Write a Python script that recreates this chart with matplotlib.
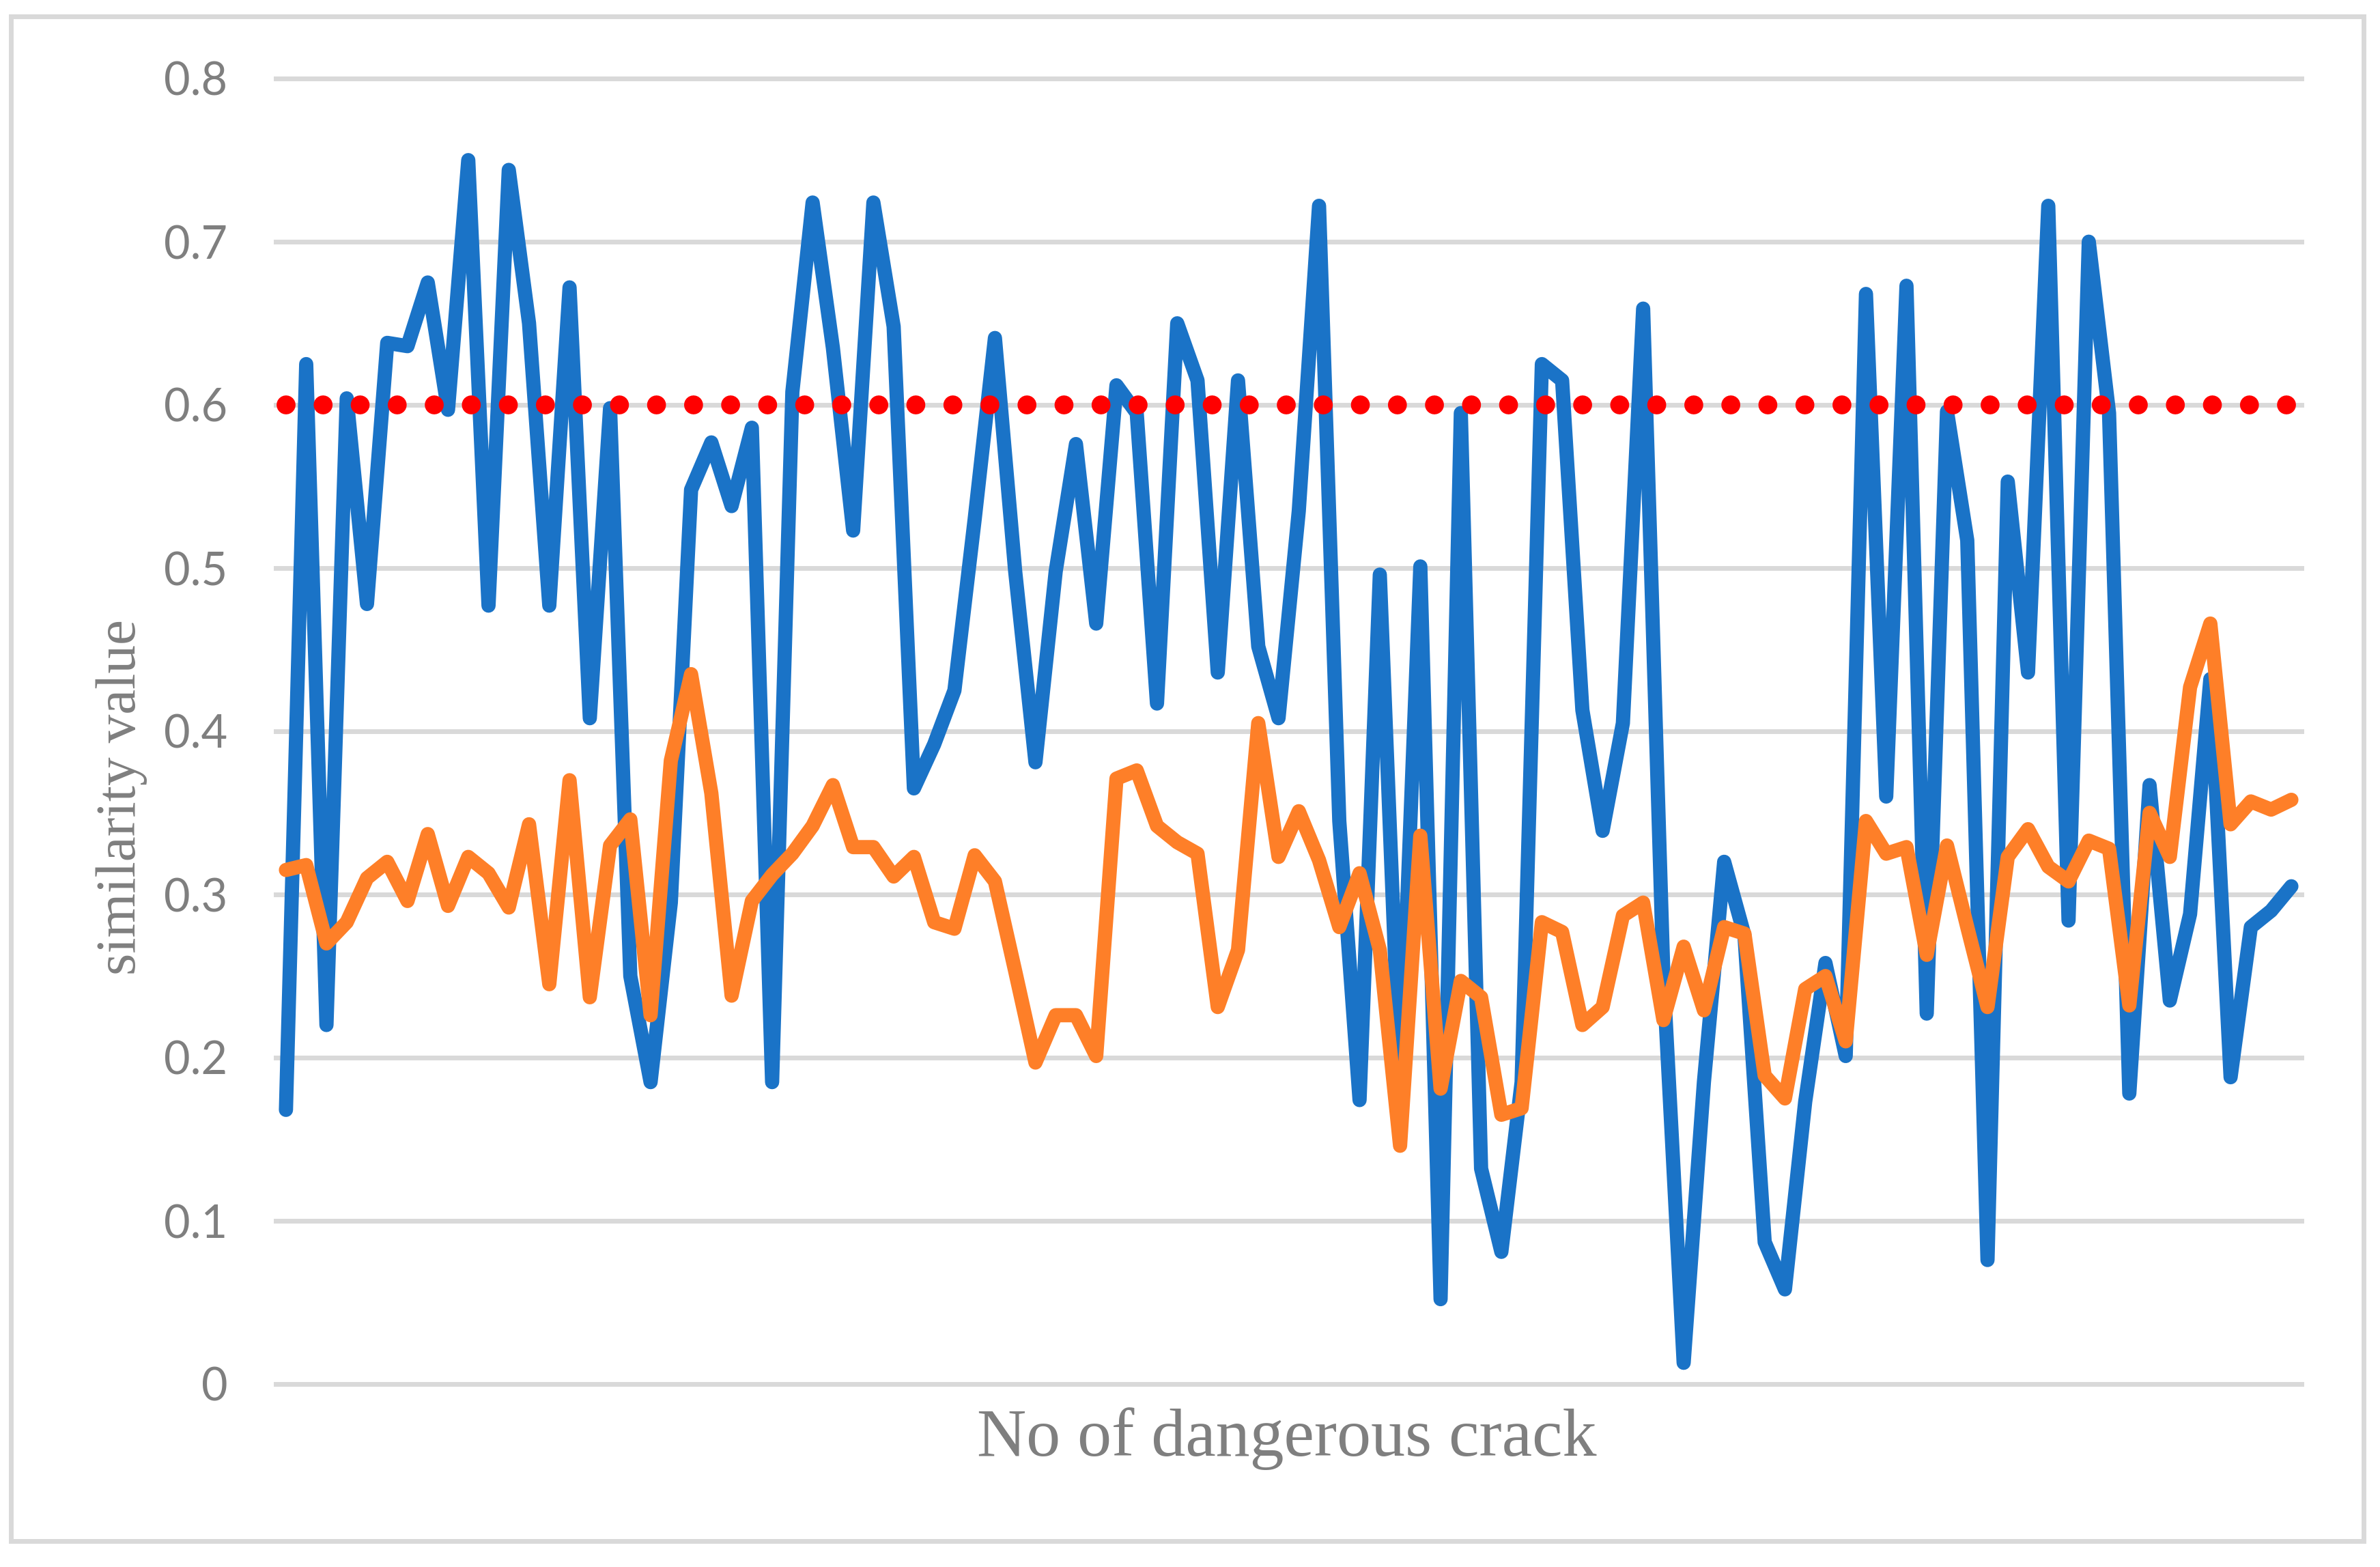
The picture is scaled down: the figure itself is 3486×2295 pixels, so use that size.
import numpy as np
import matplotlib
matplotlib.use("Agg")
import matplotlib.pyplot as plt
from matplotlib.patches import Rectangle

# ── Data ──────────────────────────────────────────────────
blue_vals = [0.168, 0.625, 0.220, 0.604, 0.478, 0.638, 0.636, 0.675, 0.597, 0.750,
             0.477, 0.744, 0.650, 0.477, 0.672, 0.408, 0.598, 0.250, 0.185, 0.295,
             0.548, 0.577, 0.538, 0.586, 0.185, 0.608, 0.724, 0.635, 0.523, 0.724,
             0.648, 0.365, 0.392, 0.425, 0.530, 0.641, 0.498, 0.381, 0.498, 0.576,
             0.466, 0.612, 0.595, 0.417, 0.650, 0.615, 0.436, 0.615, 0.452, 0.408,
             0.535, 0.722, 0.345, 0.174, 0.496, 0.183, 0.501, 0.052, 0.595, 0.132,
             0.081, 0.185, 0.625, 0.615, 0.413, 0.339, 0.405, 0.659, 0.250, 0.013,
             0.185, 0.320, 0.275, 0.087, 0.058, 0.173, 0.258, 0.201, 0.668, 0.360,
             0.673, 0.227, 0.596, 0.517, 0.076, 0.553, 0.436, 0.722, 0.284, 0.700,
             0.595, 0.178, 0.367, 0.235, 0.288, 0.432, 0.188, 0.280, 0.290, 0.305]

orange_vals = [0.315, 0.318, 0.270, 0.283, 0.310, 0.320, 0.296, 0.337, 0.293, 0.323,
               0.313, 0.292, 0.343, 0.245, 0.370, 0.237, 0.330, 0.346, 0.226, 0.382,
               0.435, 0.362, 0.238, 0.296, 0.312, 0.325, 0.342, 0.367, 0.329, 0.329,
               0.311, 0.323, 0.283, 0.279, 0.324, 0.308, 0.253, 0.197, 0.226, 0.226,
               0.201, 0.371, 0.376, 0.342, 0.332, 0.325, 0.231, 0.266, 0.405, 0.323,
               0.351, 0.321, 0.280, 0.313, 0.266, 0.146, 0.336, 0.181, 0.247, 0.237,
               0.165, 0.169, 0.283, 0.277, 0.220, 0.231, 0.287, 0.295, 0.223, 0.268,
               0.229, 0.280, 0.276, 0.189, 0.175, 0.242, 0.250, 0.210, 0.345, 0.325,
               0.329, 0.263, 0.330, 0.280, 0.231, 0.323, 0.340, 0.317, 0.308, 0.333,
               0.328, 0.232, 0.350, 0.323, 0.427, 0.466, 0.343, 0.357, 0.352, 0.358]

threshold = 0.6
y_ticks = [0, 0.1, 0.2, 0.3, 0.4, 0.5, 0.6, 0.7, 0.8]
y_ticklabels = ["0", "0.1", "0.2", "0.3", "0.4", "0.5", "0.6", "0.7", "0.8"]
x_label = "No of dangerous crack"
y_label = "similarity value"

# ── Styling ───────────────────────────────────────────────
BLUE = "#1A73C7"
ORANGE = "#FE7F28"
RED = "#FF0000"
GRID = "#D9D9D9"
TEXT = "#7F7F7F"
W, H, DPI = 3487, 2295, 100

fig = plt.figure(figsize=(W / DPI, H / DPI), dpi=DPI)
fig.patch.set_facecolor("white")

# plot area in pixels: x 404..3371, y 115..2027 (from top)
ax = fig.add_axes([404 / W, 1 - 2027 / H, (3371 - 404) / W, (2027 - 115) / H])
ax.set_facecolor("white")
for s in ax.spines.values():
    s.set_visible(False)

n = len(blue_vals)
x = np.arange(n)
ax.set_xlim(-0.5, n - 0.5)
ax.set_ylim(0, 0.8)

for yv in y_ticks:
    ax.axhline(yv, color=GRID, lw=5, zorder=1, clip_on=False)

ax.plot(x, blue_vals, color=BLUE, lw=15, solid_joinstyle="round",
        solid_capstyle="round", zorder=3, clip_on=False)
ax.plot(x, orange_vals, color=ORANGE, lw=15, solid_joinstyle="round",
        solid_capstyle="round", zorder=4, clip_on=False)

# red dotted threshold (round dots), 55 dots over the line
red_lw = 20
period_px = (n - 1) * (3371 - 404) / n / 54 * 0.997
ax.plot(x, [threshold] * n, color=RED, lw=red_lw, zorder=5, clip_on=False,
        linestyle=(0, (0.001, period_px / (red_lw * DPI / 72))),
        dash_capstyle="round")

ax.set_xticks([])
ax.set_yticks(y_ticks)
ax.set_yticklabels(y_ticklabels, fontsize=48, color=TEXT, fontfamily="Lato")
ax.tick_params(axis="y", length=0, pad=51)

fig.text(198 / W, 1 - 1168 / H, y_label, rotation=90, rotation_mode="anchor",
         ha="center", va="baseline", fontsize=60, color=TEXT,
         fontfamily="Liberation Serif")
fig.text(1885 / W, 1 - 2132 / H, x_label, ha="center", va="baseline",
         fontsize=72, color=TEXT, fontfamily="Liberation Serif")

# outer chart border
fig.patches.append(Rectangle((15.5 / W, 1 - 2257 / H), (3462.5 - 15.5) / W,
                             (2257 - 24) / H, transform=fig.transFigure,
                             fill=False, edgecolor=GRID, lw=5))

fig.savefig("out.png", dpi=DPI)
